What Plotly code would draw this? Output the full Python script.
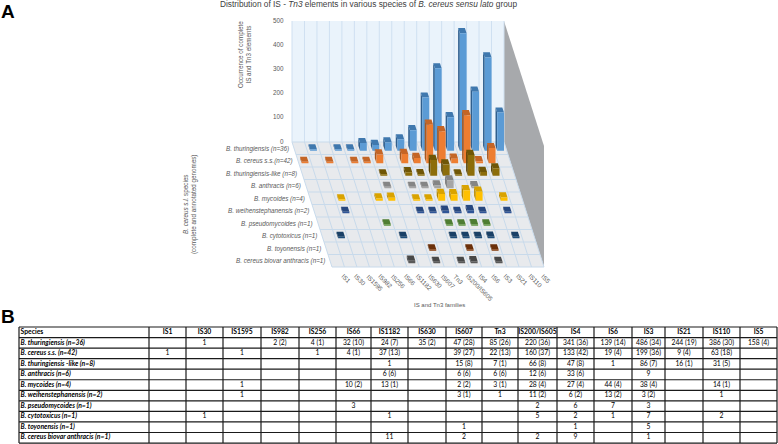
import plotly.graph_objects as go

FAMILIES = ["IS1", "IS30", "IS1595", "IS982", "IS256", "IS66", "IS1182", "IS630", "IS607", "Tn3",
            "IS200/IS605", "IS4", "IS6", "IS3", "IS21", "IS110", "IS5"]
SPECIES = ["B. thuringiensis (n=36)", "B. cereus s.s.(n=42)", "B. thuringiensis-like (n=8)",
           "B. anthracis (n=6)", "B. mycoides (n=4)", "B. weihenstephanensis (n=2)",
           "B. pseudomycoides (n=1)", "B. cytotoxicus (n=1)", "B. toyonensis (n=1)",
           "B. cereus biovar anthracis (n=1)"]
TABLE_SPECIES = ["B. thuringiensis (n=36)", "B. cereus s.s. (n=42)", "B. thuringiensis -like (n=8)",
                 "B. anthracis (n=6)", "B. mycoides (n=4)", "B. weihenstephanensis (n=2)",
                 "B. pseudomycoides (n=1)", "B. cytotoxicus (n=1)", "B. toyonensis (n=1)",
                 "B. cereus biovar anthracis (n=1)"]

thuringiensis = ["", "1", "", "2 (2)", "4 (1)", "32 (10)", "24 (7)", "35 (2)", "47 (28)", "85 (26)", "220 (36)", "341 (36)", "139 (14)", "486 (34)", "244 (19)", "386 (30)", "158 (4)"]
cereus_ss = ["1", "", "1", "", "1", "4 (1)", "37 (13)", "", "39 (27)", "22 (13)", "160 (37)", "133 (42)", "19 (4)", "199 (36)", "9 (4)", "63 (18)", ""]
thuringiensis_like = ["", "", "", "", "", "", "1", "", "15 (8)", "7 (1)", "66 (8)", "47 (8)", "1", "86 (7)", "16 (1)", "31 (5)", ""]
anthracis = ["", "", "", "", "", "", "6 (6)", "", "6 (6)", "6 (6)", "12 (6)", "33 (6)", "", "9", "", "", ""]
mycoides = ["", "", "1", "", "", "10 (2)", "13 (1)", "", "2 (2)", "3 (1)", "28 (4)", "27 (4)", "44 (4)", "38 (4)", "", "14 (1)", ""]
weihenstephanensis = ["", "", "1", "", "", "", "", "", "3 (1)", "1", "11 (2)", "6 (2)", "13 (2)", "3 (2)", "", "1", ""]
pseudomycoides = ["", "", "", "", "", "3", "", "", "", "", "2", "6", "7", "3", "", "", ""]
cytotoxicus = ["", "1", "", "", "", "", "1", "", "", "", "5", "2", "1", "7", "", "2", ""]
toyonensis = ["", "", "", "", "", "", "", "", "1", "", "", "1", "", "5", "", "", ""]
biovar_anthracis = ["", "", "", "", "", "", "11", "", "2", "", "2", "9", "", "1", "", "", ""]
ROWS = [thuringiensis, cereus_ss, thuringiensis_like, anthracis, mycoides, weihenstephanensis,
        pseudomycoides, cytotoxicus, toyonensis, biovar_anthracis]

# front, side, top colours per species
COLOURS = [("#5B9BD5", "#2F5F8E", "#3F78AE"), ("#ED7D31", "#A9581F", "#C46526"),
           ("#8C6D0A", "#584405", "#6F5607"), ("#A5A5A5", "#6E6E6E", "#858585"),
           ("#FFC000", "#B88A00", "#D9A300"), ("#2F5597", "#1E3A6B", "#27487F"),
           ("#5F9440", "#3F6A28", "#4E7D33"), ("#1F4E79", "#133250", "#1A4066"),
           ("#843C0C", "#552707", "#6B300A"), ("#5A5A5A", "#383838", "#484848")]
Y_TICKS = [0, 100, 200, 300, 400, 500]

# oblique projection of the chart box onto the page
X0, Y0 = 292.0, 142.0
CELL = 12.47
SHEAR = 0.32
PER_UNIT = 0.242
HALF_W, HALF_D = 3.4, 2.6


def proj(col, row, value=0.0):
    y_floor = Y0 + row * 12.5
    return X0 + col * CELL + SHEAR * (y_floor - Y0), y_floor - value * PER_UNIT


def poly(points):
    return [p[0] for p in points] + [points[0][0], None], [p[1] for p in points] + [points[0][1], None]


def area(points, colour, width=0):
    xs, ys = poly(points)
    return go.Scatter(x=xs, y=ys, mode="lines", fill="toself", fillcolor=colour,
                      line=dict(color=colour, width=width), hoverinfo="skip", showlegend=False)


n_col, n_row = len(FAMILIES), len(SPECIES)
fig = go.Figure()
fig.add_trace(area([proj(0, 0, 500), proj(n_col, 0, 500), proj(n_col, 0), proj(0, 0)], "#EAF3FB"))
fig.add_trace(area([proj(n_col, 0, 500), proj(n_col, n_row, 500), proj(n_col, n_row), proj(n_col, 0)], "#A7A9AC"))
fig.add_trace(area([proj(0, 0), proj(n_col, 0), proj(n_col, n_row), proj(0, n_row)], "#E8EAED"))

gx, gy = [], []
for c in range(n_col + 1):
    a, b = proj(c, 0, 500), proj(c, 0)
    gx += [a[0], b[0], None]
    gy += [a[1], b[1], None]
fig.add_trace(go.Scatter(x=gx, y=gy, mode="lines", line=dict(color="#CFE0F1", width=1), hoverinfo="skip", showlegend=False))
fx, fy = [], []
for c in range(n_col + 1):
    a, b = proj(c, 0), proj(c, n_row)
    fx += [a[0], b[0], None]
    fy += [a[1], b[1], None]
for r in range(n_row + 1):
    a, b = proj(0, r), proj(n_col, r)
    fx += [a[0], b[0], None]
    fy += [a[1], b[1], None]
fig.add_trace(go.Scatter(x=fx, y=fy, mode="lines", line=dict(color="#C8DAEB", width=1), hoverinfo="skip", showlegend=False))

for r, row in enumerate(ROWS):
    side_x, side_y, top_x, top_y, front_x, front_y = [], [], [], [], [], []
    for c, cell in enumerate(row):
        if not cell:
            continue
        value = int(cell.split()[0])
        h = max(1.5, value * PER_UNIT)
        cx, cy = proj(c + 0.5, r + 0.5)
        dx, dy = SHEAR * HALF_D, HALF_D
        fl, fr = (cx - HALF_W + dx, cy + dy), (cx + HALF_W + dx, cy + dy)
        bl, br = (cx - HALF_W - dx, cy - dy), (cx + HALF_W - dx, cy - dy)
        up = lambda p: (p[0], p[1] - h)
        sx, sy = poly([fl, up(fl), up(bl), bl])
        side_x += sx; side_y += sy
        sx, sy = poly([up(fl), up(fr), up(br), up(bl)])
        top_x += sx; top_y += sy
        sx, sy = poly([fl, fr, up(fr), up(fl)])
        front_x += sx; front_y += sy
    front, side, top = COLOURS[r]
    for xs, ys, col in ((side_x, side_y, side), (top_x, top_y, top), (front_x, front_y, front)):
        fig.add_trace(go.Scatter(x=xs, y=ys, mode="lines", fill="toself", fillcolor=col,
                                 line=dict(color=col, width=0), hoverinfo="skip", showlegend=False))

FONT = "Liberation Sans"
notes = []
for v in Y_TICKS:
    x, y = proj(0, 0, v)
    notes.append(dict(x=x - 6, y=y - 1, text=str(v), xanchor="right", yanchor="middle", showarrow=False,
                      font=dict(family=FONT, size=6.3, color="#595959")))
for r, name in enumerate(SPECIES):
    x, y = proj(0, r + 0.5)
    notes.append(dict(x=x - 3, y=y + 0.5, text=f"<i>{name}</i>", xanchor="right", yanchor="middle", showarrow=False,
                      font=dict(family=FONT, size=6.3, color="#595959")))
for c, name in enumerate(FAMILIES):
    x, y = proj(c + 0.5, n_row)
    notes.append(dict(x=x - 1, y=y + 3, text=name, xanchor="left", yanchor="top", textangle=45, showarrow=False,
                      font=dict(family=FONT, size=6.3, color="#595959")))
notes += [
    dict(x=368, y=4, text="Distribution of IS - <i>Tn3</i> elements in various species of <i>B. cereus sensu lato</i> group",
         showarrow=False, font=dict(family=FONT, size=8.3, color="#404040")),
    dict(x=244, y=55, text="Occurrence of complete<br>IS and Tn3 elements", textangle=-90, showarrow=False,
         font=dict(family=FONT, size=6.3, color="#595959")),
    dict(x=190, y=205, text="<i>B. cereus s.l.</i> species<br>(complete and annotated genomes)", textangle=-90, showarrow=False,
         font=dict(family=FONT, size=6.3, color="#595959")),
    dict(x=439, y=305, text="IS and Tn3 families", showarrow=False, font=dict(family=FONT, size=6, color="#595959")),
    dict(x=8, y=11, text="<b>A</b>", showarrow=False, font=dict(family=FONT, size=19, color="#000000")),
    dict(x=8, y=316, text="<b>B</b>", showarrow=False, font=dict(family=FONT, size=19, color="#000000")),
]

# table B, drawn on the same axes
EDGES = [19, 149, 186, 223, 261, 299, 336, 371, 408, 446, 482, 518, 557, 594, 632, 665, 703, 740, 777]
T_TOP, T_ROW = 327.0, 10.55
TFONT = "Lato"
lx, ly = [], []
for e in EDGES:
    lx += [e, e, None]
    ly += [T_TOP, T_TOP + T_ROW * 11, None]
for i in range(12):
    lx += [EDGES[0], EDGES[-1], None]
    ly += [T_TOP + i * T_ROW] * 2 + [None]
fig.add_trace(go.Scatter(x=lx, y=ly, mode="lines", line=dict(color="#1a1a1a", width=1.2), hoverinfo="skip", showlegend=False))
mids = [(a + b) / 2 for a, b in zip(EDGES[1:], EDGES[2:])]
fig.add_trace(go.Scatter(x=[EDGES[0] + 1.5] * 11, y=[T_TOP + (i + 0.5) * T_ROW for i in range(11)],
                         text=["<b>Species</b>"] + [f"<b><i>{s}</i></b>" for s in TABLE_SPECIES],
                         mode="text", textposition="middle right", hoverinfo="skip", showlegend=False,
                         textfont=dict(family=TFONT, size=6.8, color="#000000")))
fig.add_trace(go.Scatter(x=mids, y=[T_TOP + 0.5 * T_ROW] * n_col, text=[f"<b>{f}</b>" for f in FAMILIES],
                         mode="text", textposition="middle center", hoverinfo="skip", showlegend=False,
                         textfont=dict(family=TFONT, size=6.8, color="#000000")))
cx, cy, ct = [], [], []
for r, row in enumerate(ROWS):
    for c, cell in enumerate(row):
        if cell:
            cx.append(mids[c]); cy.append(T_TOP + (r + 1.5) * T_ROW); ct.append(cell)
fig.add_trace(go.Scatter(x=cx, y=cy, text=ct, mode="text", textposition="middle center", hoverinfo="skip", showlegend=False,
                         textfont=dict(family=TFONT, size=6.8, color="#000000")))

fig.update_layout(width=778, height=444, margin=dict(l=0, r=0, t=0, b=0), paper_bgcolor="white", plot_bgcolor="white",
                  annotations=notes, showlegend=False,
                  xaxis=dict(range=[0, 778], visible=False, fixedrange=True, domain=[0, 1]),
                  yaxis=dict(range=[444, 0], visible=False, fixedrange=True, domain=[0, 1]))
fig.write_html("out.html", config=dict(displayModeBar=False),
               post_script="document.body.style.margin='0';document.documentElement.style.overflow='hidden';")
